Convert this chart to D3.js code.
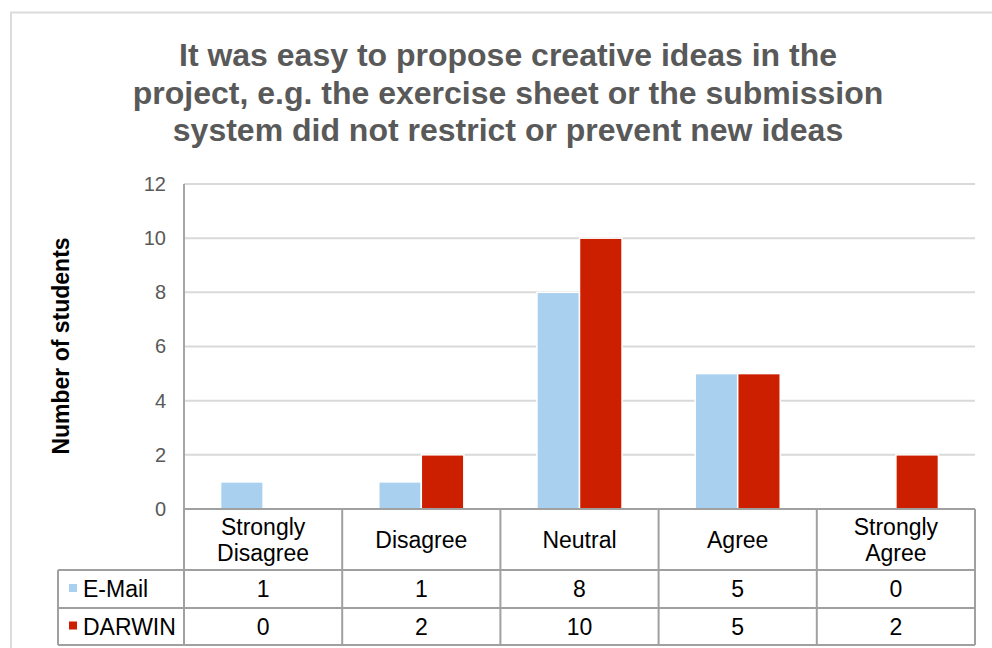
<!DOCTYPE html>
<html>
<head>
<meta charset="utf-8">
<script src="https://cdn.jsdelivr.net/npm/d3@7/dist/d3.min.js"></script>
<style>
  html, body { margin: 0; padding: 0; background: #fff; }
  svg { display: block; font-family: "Liberation Sans", Arial, sans-serif; }
</style>
</head>
<body>
<svg id="chart" width="992" height="648"></svg>
<script>
// Survey answers per response category
const categories = ["Strongly Disagree", "Disagree", "Neutral", "Agree", "Strongly Agree"];
const categoryLines = [["Strongly", "Disagree"], ["Disagree"], ["Neutral"], ["Agree"], ["Strongly", "Agree"]];
const seriesNames = ["E-Mail", "DARWIN"];
const emailValues = [1, 1, 8, 5, 0];
const darwinValues = [0, 2, 10, 5, 2];
const yTicks = [0, 2, 4, 6, 8, 10, 12];
const titleLines = [
  "It was easy to propose creative ideas in the",
  "project, e.g. the exercise sheet or the submission",
  "system did not restrict or prevent new ideas"
];
const yLabel = "Number of students";

const seriesColors = { "E-Mail": "#a9d1ef", "DARWIN": "#cc1f00" };
const seriesValues = { "E-Mail": emailValues, "DARWIN": darwinValues };

const svg = d3.select("#chart");

// Chart frame
svg.append("rect")
  .attr("x", 11).attr("y", 12.5)
  .attr("width", 1000).attr("height", 700)
  .attr("fill", "none").attr("stroke", "#dcdcdc").attr("stroke-width", 2);

// Title
svg.append("text")
  .attr("text-anchor", "middle")
  .attr("fill", "#595959")
  .attr("font-size", 32).attr("font-weight", "bold")
  .selectAll("tspan").data(titleLines).join("tspan")
  .attr("x", 508)
  .attr("y", (d, i) => 66 + i * 37.5)
  .text(d => d);

const plot = { left: 184, right: 975, top: 184, bottom: 509 };

const x0 = d3.scaleBand().domain(categories).range([plot.left, plot.right]).paddingInner(0).paddingOuter(0);
const x1 = d3.scaleBand().domain(seriesNames).range([0, x0.bandwidth()]).paddingInner(0).paddingOuter(0.86);
const y = d3.scaleLinear().domain([0, 12]).range([plot.bottom, plot.top]);

// Gridlines
svg.append("g")
  .selectAll("line").data(yTicks.filter(t => t > 0)).join("line")
  .attr("x1", plot.left).attr("x2", plot.right)
  .attr("y1", d => y(d)).attr("y2", d => y(d))
  .attr("stroke", "#d9d9d9").attr("stroke-width", 2);

// Y axis tick labels
const yAxis = d3.axisLeft(y).tickValues(yTicks).tickSize(0).tickPadding(18);
const yg = svg.append("g").attr("transform", `translate(${plot.left},0)`).call(yAxis);
yg.select(".domain").remove();
yg.selectAll("text")
  .attr("font-family", "'Liberation Sans', Arial, sans-serif")
  .attr("font-size", 20).attr("fill", "#595959");

// Y axis title
svg.append("text")
  .attr("transform", `translate(69,346) rotate(-90)`)
  .attr("text-anchor", "middle")
  .attr("font-size", 23).attr("font-weight", "bold").attr("fill", "#000")
  .text(yLabel);

// Bars
const groups = svg.append("g").selectAll("g").data(categories).join("g")
  .attr("transform", d => `translate(${x0(d)},0)`);
groups.selectAll("rect")
  .data((c, i) => seriesNames.map(s => ({ s, v: seriesValues[s][i] })))
  .join("rect")
  .filter(d => d.v > 0)
  .attr("x", d => x1(d.s))
  .attr("width", x1.bandwidth())
  .attr("y", d => y(d.v))
  .attr("height", d => y(0) - y(d.v))
  .attr("fill", d => seriesColors[d.s])
  .attr("stroke", "#fff").attr("stroke-width", 1.5);

// Value axis line
svg.append("line")
  .attr("x1", plot.left).attr("x2", plot.left)
  .attr("y1", plot.top).attr("y2", plot.bottom)
  .attr("stroke", "#a6a6a6").attr("stroke-width", 2);

// Data table beneath the plot
const tableColor = "#a0a0a0";
const rowTops = [509, 570, 608, 645];
const legendLeft = 58;
const tbl = svg.append("g");

// Horizontal rules
tbl.append("line").attr("x1", plot.left).attr("x2", plot.right).attr("y1", rowTops[0]).attr("y2", rowTops[0]);
[1, 2, 3].forEach(r => {
  tbl.append("line").attr("x1", legendLeft).attr("x2", plot.right).attr("y1", rowTops[r]).attr("y2", rowTops[r]);
});
// Vertical rules
tbl.append("line").attr("x1", legendLeft).attr("x2", legendLeft).attr("y1", rowTops[1]).attr("y2", rowTops[3]);
categories.forEach(c => {
  tbl.append("line").attr("x1", x0(c)).attr("x2", x0(c)).attr("y1", rowTops[0]).attr("y2", rowTops[3]);
});
tbl.append("line").attr("x1", plot.right).attr("x2", plot.right).attr("y1", rowTops[0]).attr("y2", rowTops[3]);
tbl.selectAll("line").attr("stroke", tableColor).attr("stroke-width", 2);

// Category headers
categories.forEach((c, i) => {
  const lines = categoryLines[i];
  const cy = (rowTops[0] + rowTops[1]) / 2;
  const t = svg.append("text")
    .attr("text-anchor", "middle")
    .attr("font-size", 23).attr("fill", "#000");
  lines.forEach((ln, k) => {
    t.append("tspan")
      .attr("x", x0(c) + x0.bandwidth() / 2)
      .attr("y", cy + 8 + (k - (lines.length - 1) / 2) * 26)
      .text(ln);
  });
});

// Series rows: legend key, name, values
seriesNames.forEach((s, r) => {
  const top = rowTops[r + 1], bot = rowTops[r + 2];
  const cy = (top + bot) / 2;
  svg.append("rect")
    .attr("x", 69).attr("y", cy - 5)
    .attr("width", 8).attr("height", 8)
    .attr("fill", seriesColors[s]);
  svg.append("text")
    .attr("x", 83).attr("y", cy + 8)
    .attr("font-size", 23).attr("fill", "#000")
    .text(s);
  svg.append("g").selectAll("text").data(seriesValues[s]).join("text")
    .attr("x", (d, i) => x0(categories[i]) + x0.bandwidth() / 2)
    .attr("y", cy + 8)
    .attr("text-anchor", "middle")
    .attr("font-size", 23).attr("fill", "#000")
    .text(d => d);
});
</script>
</body>
</html>
